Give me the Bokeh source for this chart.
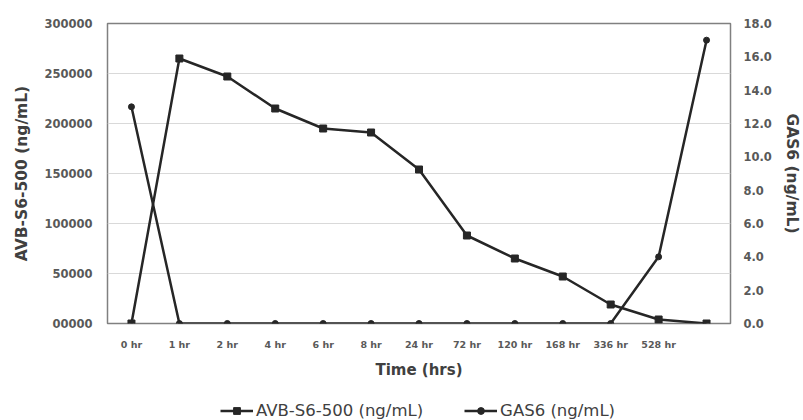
from bokeh.plotting import figure
from bokeh.layouts import column
from bokeh.models import Range1d, LinearAxis, FixedTicker, Legend, LegendItem
from bokeh.embed import file_html
from bokeh.resources import INLINE

time_labels = ["0 hr", "1 hr", "2 hr", "4 hr", "6 hr", "8 hr", "24 hr", "72 hr",
               "120 hr", "168 hr", "336 hr", "528 hr", ""]
avb_values = [0, 265000, 247000, 215000, 195000, 191000, 154000, 88000, 65000,
              47000, 19000, 4000, 0]
gas6_values = [13.0, 0, 0, 0, 0, 0, 0, 0, 0, 0, 0, 4.0, 17.0]
avb_ticks = [0, 50000, 100000, 150000, 200000, 250000, 300000]
avb_tick_labels = ["00000", "50000", "100000", "150000", "200000", "250000", "300000"]
gas6_ticks = [0, 2, 4, 6, 8, 10, 12, 14, 16, 18]
series_names = ["AVB-S6-500 (ng/mL)", "GAS6 (ng/mL)"]

x_pos = list(range(len(time_labels)))
FONT = "DejaVu Sans"
TICK_COLOR = "#595959"
TITLE_COLOR = "#404040"
LINE_COLOR = "#262626"

p = figure(frame_width=623, frame_height=300, output_backend="svg",
           toolbar_location=None, x_range=Range1d(-0.5, len(time_labels) - 0.5),
           y_range=Range1d(avb_ticks[0], avb_ticks[-1]),
           min_border_left=107, min_border_right=73, min_border_top=23,
           min_border_bottom=75, x_axis_location=None, y_axis_location=None)
p.outline_line_color = "#808080"
p.outline_line_width = 1.5
p.background_fill_color = "white"
p.border_fill_color = "white"

p.extra_y_ranges = {"gas": Range1d(gas6_ticks[0], gas6_ticks[-1])}

xaxis = LinearAxis(ticker=FixedTicker(ticks=[i for i, t in zip(x_pos, time_labels) if t]),
                   major_label_overrides={i: t for i, t in zip(x_pos, time_labels) if t},
                   axis_label="Time (hrs)")
yaxis = LinearAxis(ticker=FixedTicker(ticks=avb_ticks),
                   major_label_overrides={v: l for v, l in zip(avb_ticks, avb_tick_labels)},
                   axis_label=series_names[0])
raxis = LinearAxis(y_range_name="gas", ticker=FixedTicker(ticks=gas6_ticks),
                   major_label_overrides={v: f"{v:.1f}" for v in gas6_ticks},
                   axis_label=series_names[1])

for ax in (xaxis, yaxis, raxis):
    ax.axis_line_color = None
    ax.major_tick_line_color = None
    ax.minor_tick_line_color = None
    ax.major_tick_out = 0
    ax.major_tick_in = 0
    ax.major_label_text_font = FONT
    ax.major_label_text_font_style = "bold"
    ax.major_label_text_color = TICK_COLOR
    ax.axis_label_text_font = FONT
    ax.axis_label_text_font_style = "bold"
    ax.axis_label_text_color = TITLE_COLOR

xaxis.major_label_text_font_size = "9.5px"
xaxis.major_label_standoff = 15
xaxis.axis_label_text_font_size = "15px"
xaxis.axis_label_standoff = 8
yaxis.major_label_text_font_size = "11.5px"
yaxis.major_label_standoff = 15
yaxis.axis_label_text_font_size = "15.5px"
yaxis.axis_label_standoff = 10
raxis.major_label_text_font_size = "11.5px"
raxis.major_label_standoff = 13
raxis.axis_label_text_font_size = "15.5px"
raxis.axis_label_standoff = 8

p.add_layout(xaxis, "below")
p.add_layout(yaxis, "left")
p.add_layout(raxis, "right")

p.xgrid.visible = False
p.ygrid.ticker = FixedTicker(ticks=avb_ticks)
p.ygrid.grid_line_color = "#d9d9d9"
p.ygrid.grid_line_width = 1

p.line(x_pos, avb_values, line_color=LINE_COLOR, line_width=2.5)
p.scatter(x_pos, avb_values, marker="square", size=7,
          fill_color=LINE_COLOR, line_color=LINE_COLOR)
p.line(x_pos, gas6_values, line_color=LINE_COLOR, line_width=2.5, y_range_name="gas")
p.scatter(x_pos, gas6_values, marker="circle", size=6,
          fill_color=LINE_COLOR, line_color=LINE_COLOR, y_range_name="gas")

# legend strip below the chart (series drawn again, but out of its visible range,
# only so that the legend has glyphs to show)
lg = figure(width=803, height=22, output_backend="svg", toolbar_location=None,
            min_border=0, x_axis_location=None, y_axis_location=None,
            x_range=Range1d(-100, -99), y_range=Range1d(-100, -99))
lg.outline_line_color = None
lg.xgrid.visible = False
lg.ygrid.visible = False
l1 = lg.line(x_pos, avb_values, line_color=LINE_COLOR, line_width=2.5)
m1 = lg.scatter(x_pos, avb_values, marker="square", size=7,
                fill_color=LINE_COLOR, line_color=LINE_COLOR)
l2 = lg.line(x_pos, gas6_values, line_color=LINE_COLOR, line_width=2.5)
m2 = lg.scatter(x_pos, gas6_values, marker="circle", size=6,
                fill_color=LINE_COLOR, line_color=LINE_COLOR)

legend = Legend(items=[LegendItem(label=series_names[0], renderers=[l1, m1], index=0),
                       LegendItem(label=series_names[1], renderers=[l2, m2], index=0)],
                orientation="horizontal", location=(113, 0))
legend.border_line_color = None
legend.background_fill_alpha = 0
legend.label_text_font = FONT
legend.label_text_font_size = "16.5px"
legend.label_text_color = TITLE_COLOR
legend.glyph_width = 33
legend.glyph_height = 17
legend.label_height = 17
legend.label_standoff = 3
legend.spacing = 41
legend.padding = 0
legend.margin = 0
lg.add_layout(legend, "center")

layout = column(p, lg, spacing=0)
open("out.html", "w").write(file_html(layout, INLINE))
